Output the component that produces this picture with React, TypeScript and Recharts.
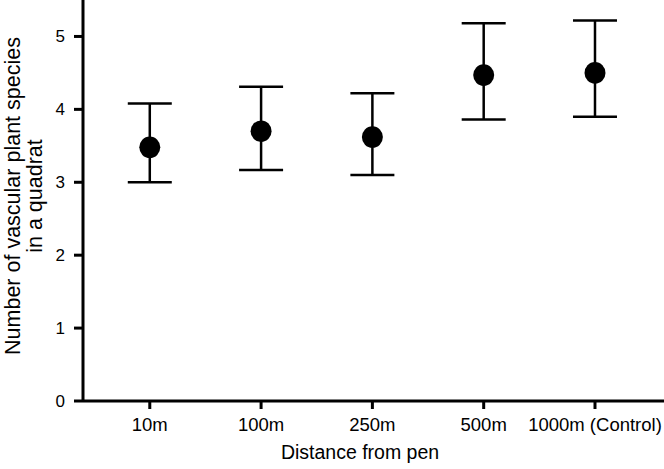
import React from 'react'
import { ScatterChart, Scatter, XAxis, YAxis, ErrorBar } from 'recharts'

// distance groups along the transect
const categories = ['10m', '100m', '250m', '500m', '1000m (Control)']
// mean species count per quadrat and the error bar ends
const means = [3.48, 3.70, 3.62, 4.47, 4.50]
const upper = [4.08, 4.31, 4.22, 5.18, 5.22]
const lower = [3.0, 3.17, 3.10, 3.86, 3.90]
const yTicks = [0, 1, 2, 3, 4, 5]

const data = categories.map((name, i) => ({
  x: i,
  name,
  mean: means[i],
  err: [means[i] - lower[i], upper[i] - means[i]],
}))

const font = '"Liberation Sans", Arial, sans-serif'

const Dot = (props: any) => {
  const { cx, cy } = props
  if (cx == null || cy == null) return null
  return <ellipse cx={cx} cy={cy} rx={10.5} ry={10.8} fill="#000" />
}

const YTitle = () => (
  <text
    transform="translate(0, 196) rotate(-90)"
    textAnchor="middle"
    fontFamily={font}
    fontSize={21.5}
    fill="#000"
  >
    <tspan x={0} y={20}>Number of vascular plant species</tspan>
    <tspan x={0} y={42}>in a quadrat</tspan>
  </text>
)

const XTitle = () => (
  <text x={360} y={459} textAnchor="middle" fontFamily={font} fontSize={19.5} fill="#000">
    Distance from pen
  </text>
)

export default function App() {
  return (
    <div style={{ position: 'absolute', left: 0, top: 0, background: '#fff' }}>
      <ScatterChart width={664} height={469} margin={{ top: 0, right: 0, bottom: 0, left: 0 }}>
        <XAxis
          type="number"
          dataKey="x"
          domain={[-0.6, 4.62]}
          allowDataOverflow
          ticks={[0, 1, 2, 3, 4]}
          tickFormatter={(v: number) => categories[v]}
          height={68}
          interval={0}
          axisLine={{ stroke: '#000', strokeWidth: 3 }}
          tickLine={{ stroke: '#000', strokeWidth: 3 }}
          tickSize={8}
          tickMargin={9}
          tick={{ fill: '#000', fontSize: 18.5, fontFamily: font }}
          label={<XTitle />}
        />
        <YAxis
          type="number"
          dataKey="mean"
          domain={[0, 5.5]}
          ticks={yTicks}
          width={83}
          interval={0}
          axisLine={{ stroke: '#000', strokeWidth: 3 }}
          tickLine={{ stroke: '#000', strokeWidth: 3 }}
          tickSize={9}
          tickMargin={9}
          tick={{ fill: '#000', fontSize: 17, fontFamily: font }}
          label={<YTitle />}
        />
        <Scatter data={data} shape={<Dot />} isAnimationActive={false}>
          <ErrorBar
            dataKey="err"
            direction="y"
            width={22}
            stroke="#000"
            strokeWidth={2.5}
            isAnimationActive={false}
          />
        </Scatter>
      </ScatterChart>
    </div>
  )
}
